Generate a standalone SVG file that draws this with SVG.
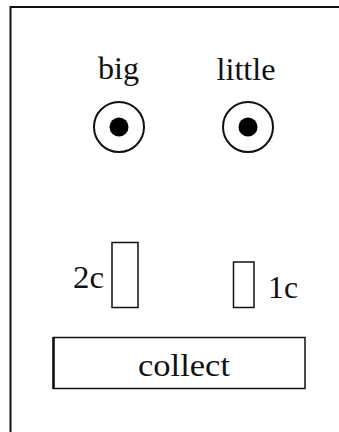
<svg xmlns="http://www.w3.org/2000/svg" width="339" height="432" viewBox="0 0 339 432">
  <style>
    .frame { fill: none; stroke: #111; stroke-width: 2; }
    .box { fill: #fff; stroke: #111; stroke-width: 1.5; }
    .ring { fill: none; stroke: #111; stroke-width: 2; }
    .dot { fill: #000; }
    .label { font-family: "Liberation Serif", "Times New Roman", serif; font-size: 32px; fill: #111; }
  </style>
  <rect width="339" height="432" fill="#fff"/>
  <!-- outer panel, running off the right and bottom edges -->
  <path class="frame" d="M10.5 440 V7 H345"/>

  <g id="big">
    <text class="label" x="98" y="79" textLength="41" lengthAdjust="spacingAndGlyphs">big</text>
    <circle class="ring" cx="119" cy="127" r="25"/>
    <circle class="dot" cx="119" cy="127" r="9.5"/>
  </g>

  <g id="little">
    <text class="label" x="216.5" y="80" textLength="59" lengthAdjust="spacingAndGlyphs">little</text>
    <circle class="ring" cx="248" cy="127" r="25"/>
    <circle class="dot" cx="248" cy="127" r="9.5"/>
  </g>

  <g id="slot-2c">
    <rect class="box" x="112" y="242.5" width="26" height="65"/>
    <text class="label" x="73" y="288" textLength="31" lengthAdjust="spacingAndGlyphs">2c</text>
  </g>

  <g id="slot-1c">
    <rect class="box" x="233.5" y="262" width="20.5" height="45.5"/>
    <text class="label" x="268" y="298" textLength="30" lengthAdjust="spacingAndGlyphs">1c</text>
  </g>

  <g id="collect">
    <rect class="box" x="53.5" y="337.5" width="251.5" height="51"/>
    <line x1="53.5" y1="337" x2="53.5" y2="389" stroke="#111" stroke-width="2.5"/>
    <text class="label" x="138" y="376" textLength="92" lengthAdjust="spacingAndGlyphs">collect</text>
  </g>

  <g id="connectors"/>
</svg>
